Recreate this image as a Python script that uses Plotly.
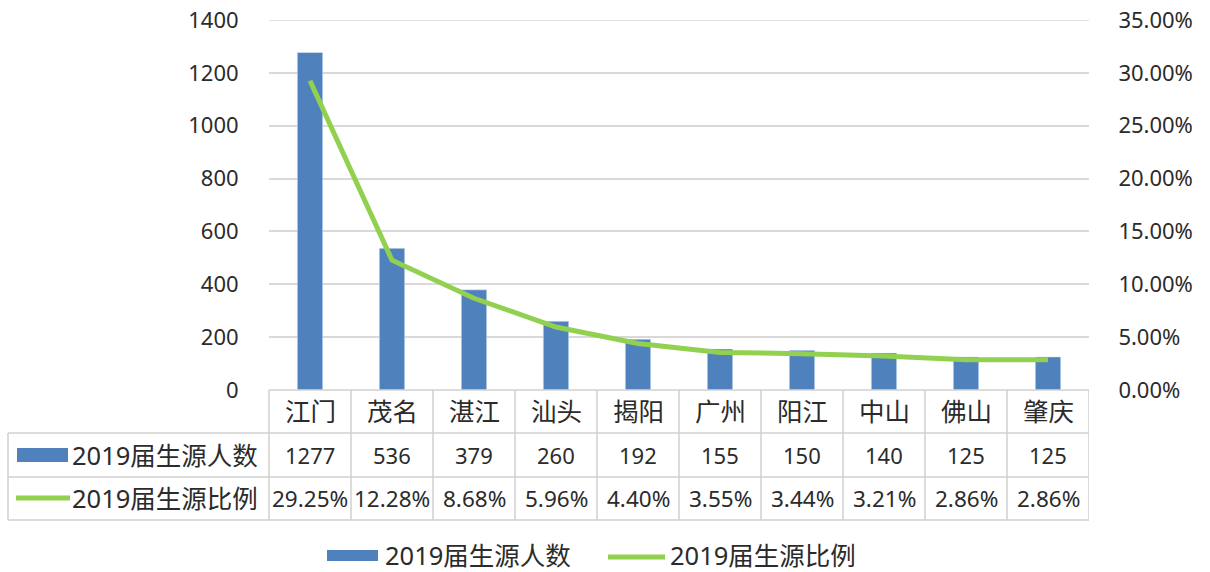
import plotly.graph_objects as go

categories = ["江门", "茂名", "湛江", "汕头", "揭阳", "广州", "阳江", "中山", "佛山", "肇庆"]
counts = [1277, 536, 379, 260, 192, 155, 150, 140, 125, 125]
ratios = [29.25, 12.28, 8.68, 5.96, 4.40, 3.55, 3.44, 3.21, 2.86, 2.86]
series_names = ["2019届生源人数", "2019届生源比例"]
left_ticks = [0, 200, 400, 600, 800, 1000, 1200, 1400]
right_ticks = [0, 5, 10, 15, 20, 25, 30, 35]

W, H = 1210, 572
X0, X1, YT, YB = 269, 1089, 20, 390
PW, PH = X1 - X0, YB - YT

def px(x):
    return (x - X0) / PW

def py(y):
    return (YB - y) / PH

BLUE = "#4f81bd"
GREEN = "#92d050"
GRID = "#d9d9d9"
TBL = "#d0d0d0"
TXT = "#2b2b2b"
FONT = "Noto Sans, Noto Sans CJK SC"
FS = 22
FCJK = 25.5

idx = list(range(len(categories)))

fig = go.Figure()
fig.add_trace(go.Bar(x=idx, y=counts, name=series_names[0], marker_color=BLUE,
                     width=0.31, yaxis="y", hoverinfo="skip"))
fig.add_trace(go.Scatter(x=idx, y=[r / 100 for r in ratios], name=series_names[1],
                         mode="lines", line=dict(color=GREEN, width=5), yaxis="y2",
                         hoverinfo="skip"))

shapes = []
ann = []

# top gridline (at the range edge)
shapes.append(dict(type="line", xref="paper", yref="y", x0=0, x1=1,
                   y0=left_ticks[-1], y1=left_ticks[-1], line=dict(color=GRID, width=1.5),
                   layer="below"))

def hline(y, xa, xb):
    shapes.append(dict(type="line", xref="paper", yref="paper", x0=px(xa), x1=px(xb),
                       y0=py(y), y1=py(y), line=dict(color=TBL, width=1.5)))

def vline_paper(x, ya, yb):
    shapes.append(dict(type="line", xref="paper", yref="paper", x0=px(x), x1=px(x),
                       y0=py(ya), y1=py(yb), line=dict(color=TBL, width=1.5)))

def text(x, y, s, xref="paper", xanchor="center", size=FS):
    ann.append(dict(x=x, y=y, xref=xref, yref="paper", text=s, showarrow=False,
                    xanchor=xanchor, yanchor="middle",
                    font=dict(size=size, color=TXT)))

# table grid
hline(390, X0, X1)
hline(433, 8, X1)
hline(477, 8, X1)
hline(520, 8, X1)
vline_paper(8, 433, 520)
vline_paper(X0, 390, 520)
for i in idx:
    shapes.append(dict(type="line", xref="x", yref="paper", x0=i + 0.5, x1=i + 0.5,
                       y0=py(390), y1=py(520), line=dict(color=TBL, width=1.5)))

# table cells
for i, c in enumerate(categories):
    text(i, py(411), c, xref="x", size=FCJK)
    text(i, py(455), str(counts[i]), xref="x")
    text(i, py(498), f"{ratios[i]:.2f}%", xref="x", size=22.5)

# table row headers with keys
shapes.append(dict(type="rect", xref="paper", yref="paper", x0=px(17), x1=px(68),
                   y0=py(462), y1=py(448), fillcolor=BLUE, line=dict(width=0)))
shapes.append(dict(type="line", xref="paper", yref="paper", x0=px(16), x1=px(70),
                   y0=py(498), y1=py(498), line=dict(color=GREEN, width=5)))
text(px(70), py(455), series_names[0], xanchor="left", size=FCJK)
text(px(70), py(498), series_names[1], xanchor="left", size=FCJK)

# bottom legend
shapes.append(dict(type="rect", xref="paper", yref="paper", x0=px(327), x1=px(378),
                   y0=py(561), y1=py(550), fillcolor=BLUE, line=dict(width=0)))
shapes.append(dict(type="line", xref="paper", yref="paper", x0=px(608), x1=px(665),
                   y0=py(557), y1=py(557), line=dict(color=GREEN, width=5)))
text(px(383), py(555), series_names[0], xanchor="left", size=FCJK)
text(px(668), py(555), series_names[1], xanchor="left", size=FCJK)

fig.update_layout(
    width=W, height=H,
    margin=dict(l=X0, r=W - X1, t=YT, b=H - YB, pad=0, autoexpand=False),
    paper_bgcolor="white", plot_bgcolor="white",
    font=dict(family=FONT, size=FS, color=TXT),
    showlegend=False,
    hovermode=False,
    xaxis=dict(range=[-0.5, len(categories) - 0.5], showticklabels=False, showgrid=False,
               zeroline=False, showline=False, ticks="", fixedrange=True, automargin=False),
    yaxis=dict(range=[0, 1400], tickvals=left_ticks, ticktext=[str(t) for t in left_ticks],
               showgrid=True, gridcolor=GRID, gridwidth=1.5, zeroline=False, showline=False,
               ticks="outside", ticklen=0, ticklabelstandoff=25, automargin=False,
               ticklabeloverflow="allow", tickfont=dict(size=FS, color=TXT)),
    yaxis2=dict(range=[0, 0.35], overlaying="y", side="right",
                tickvals=[t / 100 for t in right_ticks],
                ticktext=[f"{t:.2f}%" for t in right_ticks],
                showgrid=False, zeroline=False, showline=False, automargin=False,
                ticks="outside", ticklen=0, ticklabelstandoff=24,
                ticklabeloverflow="allow", tickfont=dict(size=FS, color=TXT)),
    shapes=shapes,
    annotations=ann,
)

fig.write_html("out.html", config={"displayModeBar": False},
               post_script="document.body.style.margin='0';document.body.style.overflow='hidden';")
